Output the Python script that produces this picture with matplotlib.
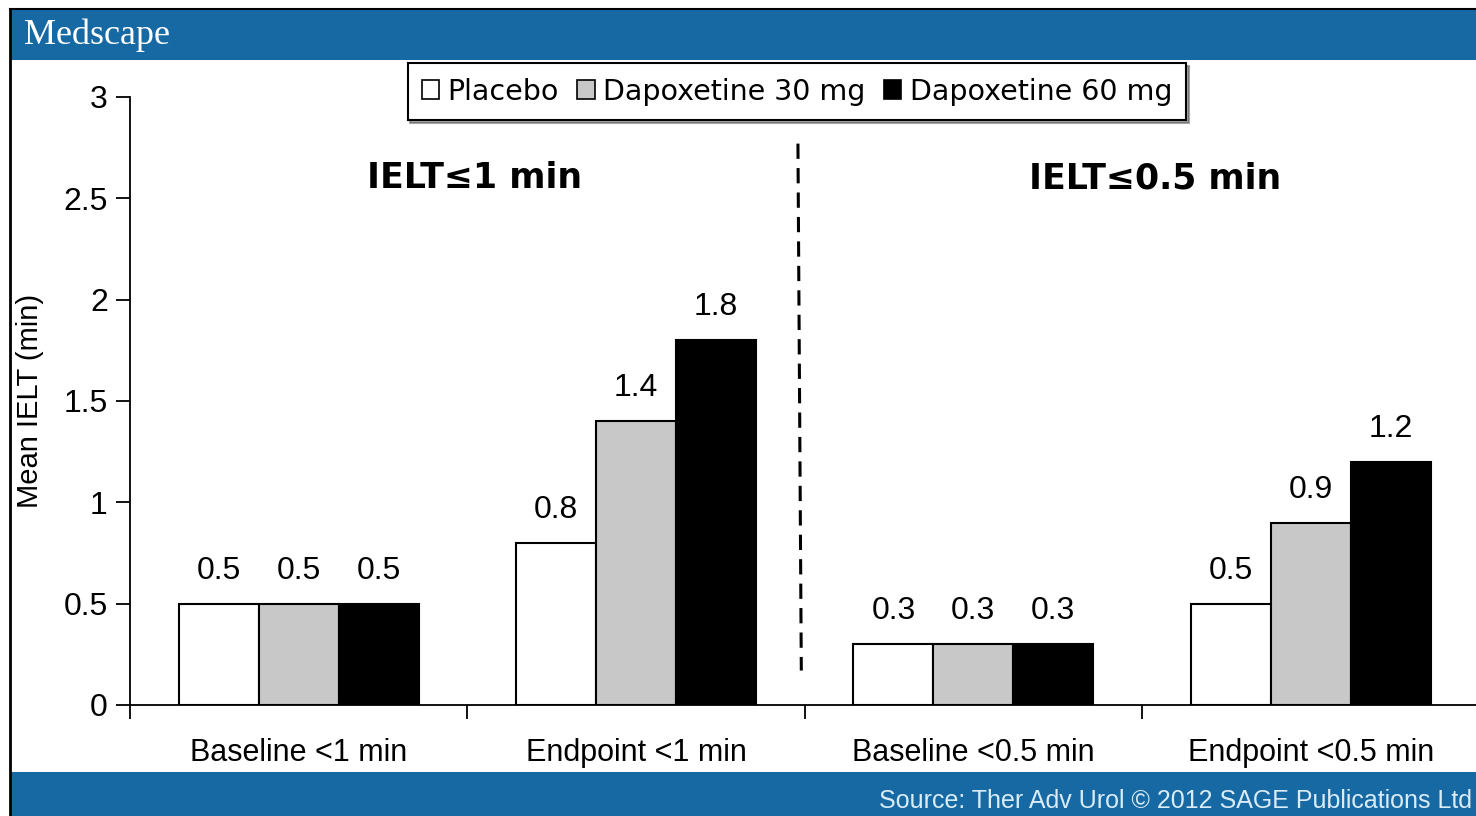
import matplotlib
matplotlib.use("Agg")
import matplotlib.pyplot as plt
import numpy as np
from matplotlib.patches import Rectangle
from matplotlib.ticker import FixedLocator

categories = ['Baseline <1 min', 'Endpoint <1 min', 'Baseline <0.5 min', 'Endpoint <0.5 min']
series_names = ['Placebo', 'Dapoxetine 30 mg', 'Dapoxetine 60 mg']
placebo = [0.5, 0.8, 0.3, 0.5]
dapox30 = [0.5, 1.4, 0.3, 0.9]
dapox60 = [0.5, 1.8, 0.3, 1.2]
y_ticks = [0, 0.5, 1, 1.5, 2, 2.5, 3]
y_tick_labels = ['0', '0.5', '1', '1.5', '2', '2.5', '3']
panel_titles = ['IELT≤1 min', 'IELT≤0.5 min']

sans = 'Liberation Sans'

W, H = 1476, 816
fig = plt.figure(figsize=(W / 100, H / 100), dpi=100)
fig.patch.set_facecolor('white')

blue = '#1769a3'
# header and footer bands
fig.add_artist(Rectangle((10 / W, 1 - 60 / H), 1 - 10 / W, 50 / H, transform=fig.transFigure,
                         facecolor=blue, edgecolor='none', zorder=0))
fig.add_artist(Rectangle((10 / W, 0), 1 - 10 / W, 44 / H, transform=fig.transFigure,
                         facecolor=blue, edgecolor='none', zorder=0))
# black frame on the left / top
fig.add_artist(plt.Line2D([10 / W, 10 / W], [0, 1 - 9 / H], transform=fig.transFigure,
                          color='black', lw=2))
fig.add_artist(plt.Line2D([10 / W, 1], [1 - 9 / H, 1 - 9 / H], transform=fig.transFigure,
                          color='black', lw=1.5))
fig.text(24 / W, 1 - 35 / H, 'Medscape', color='white', fontsize=26, family='Liberation Serif',
         va='center', ha='left')
fig.text(1472 / W, 15 / H, 'Source: Ther Adv Urol © 2012 SAGE Publications Ltd',
         color='#d9ecf8', fontsize=18, family=sans, ha='right', va='center')

left, bottom = 130 / W, (H - 705) / H
top = (H - 97) / H
ax = fig.add_axes([left, bottom, 1 - left, top - bottom])
ax.set_facecolor('none')

x = np.arange(len(categories))
bw = 0.237
colors = ['white', '#c8c8c8', 'black']
for i, (vals, c, name) in enumerate(zip([placebo, dapox30, dapox60], colors, series_names)):
    pos = x + (i - 1) * bw
    ax.bar(pos, vals, width=bw, color=c, edgecolor='black', linewidth=1.5, label=name, zorder=3)
    for p, v in zip(pos, vals):
        ax.annotate(f'{v:g}', (p, v), xytext=(0, 13), textcoords='offset points',
                    ha='center', va='bottom', fontsize=23, family=sans)

ax.set_xlim(-0.5, 3.49)
ax.set_ylim(0, 3)
ax.set_yticks(y_ticks)
ax.set_yticklabels(y_tick_labels, family=sans, fontsize=23)
ax.set_xticks(x)
ax.set_xticklabels(categories, family=sans, fontsize=22)
ax.xaxis.set_minor_locator(FixedLocator([-0.5, 0.5, 1.5, 2.5, 3.5]))
ax.tick_params(axis='x', which='major', length=0, pad=24)
ax.tick_params(axis='x', which='minor', length=10, width=1.3, direction='out')
ax.tick_params(axis='y', length=10, width=1.3, direction='out', pad=6)
for s in ['top', 'right']:
    ax.spines[s].set_visible(False)
ax.spines['left'].set_linewidth(1.3)
ax.spines['bottom'].set_linewidth(1.3)
ax.set_ylabel('Mean IELT (min)', family=sans, fontsize=21, labelpad=14)

ax.plot([1.48, 1.49], [2.77, 0.17], ls=(0, (5, 3)), color='black', lw=2.2)
ax.text(0.52, 2.6, panel_titles[0], fontsize=25, fontweight='bold', family='DejaVu Sans',
        ha='center', va='center')
ax.text(2.54, 2.6, panel_titles[1], fontsize=25, fontweight='bold', family='DejaVu Sans',
        ha='center', va='center')

leg = fig.legend(loc='center', bbox_to_anchor=(797 / W, (H - 91.5) / H), ncol=3,
                 frameon=True, fancybox=False, shadow=True,
                 prop={'family': 'DejaVu Sans', 'size': 20.5},
                 handlelength=0.6, handleheight=0.6, handletextpad=0.3,
                 columnspacing=0.65, borderpad=0.5, borderaxespad=0)
leg.get_frame().set_edgecolor('black')
leg.get_frame().set_linewidth(1.5)
for h in leg.legend_handles:
    h.set_linewidth(1.2)

fig.savefig('out.png', dpi=100)
